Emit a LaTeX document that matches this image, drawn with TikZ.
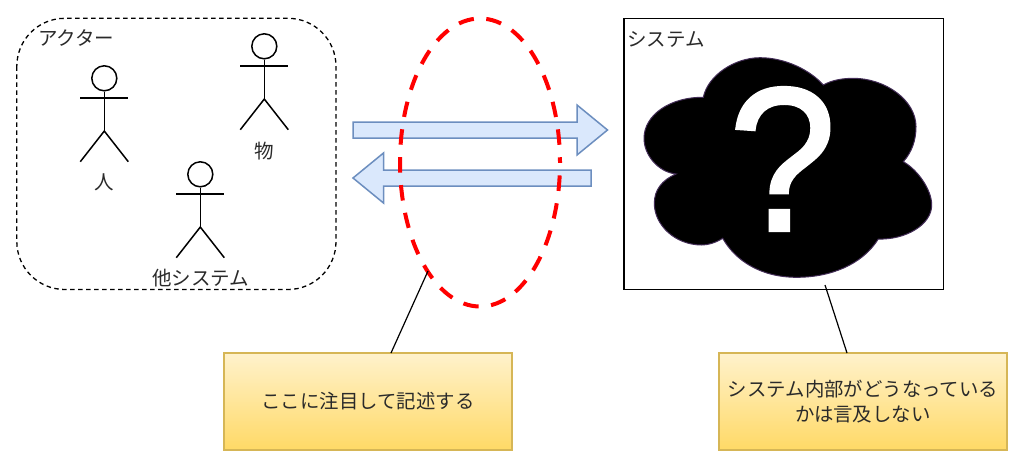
\documentclass[tikz,border=0pt]{standalone}
\usepackage{fontspec}
\setmainfont{Noto Sans CJK JP}
\newfontfamily\qfont[FakeBold=1.5,FakeStretch=0.94]{Liberation Sans}
\usetikzlibrary{shapes.geometric}
\definecolor{arrowfill}{HTML}{DAE8FC}
\definecolor{arrowline}{HTML}{6C8EBF}
\definecolor{notetop}{HTML}{FFF2CC}
\definecolor{notebot}{HTML}{FFD966}
\definecolor{noteline}{HTML}{D6B656}
\definecolor{cloudline}{HTML}{432D57}
\definecolor{inktext}{HTML}{2A2A2A}
\tikzset{
  x=1pt,y=-1pt,
  label text/.style={font=\fontsize{19.5}{23}\selectfont,text=inktext,inner sep=0pt},
  stick/.style={draw=black,line width=1.5pt},
  flowarrow/.style={draw=arrowline,fill=arrowfill,line width=1.5pt,line join=miter},
  notebox/.style={rectangle,draw=noteline,line width=1.1pt,top color=notetop,bottom color=notebot,minimum width=288pt,minimum height=97pt,align=center,font=\fontsize{19.4}{25.5}\selectfont,text=inktext,inner sep=0pt,outer sep=0pt},
  leader/.style={draw=black,line width=1.2pt},
}
\newcommand{\stickman}[3]{%
  \node[circle,stick,minimum size=25pt,inner sep=0pt] (#3head) at (#1,#2) {};
  \draw[stick] (#3head.south) -- ++(0,39.5) coordinate (#3hip);
  \draw[stick] (#1-24,#2+19.7) -- (#1+24,#2+19.7);
  \draw[stick] (#1-24,#2+83.4) -- (#3hip) -- (#1+24,#2+83.4);
}
\begin{document}
\begin{tikzpicture}
\useasboundingbox (0,0) rectangle (1024,468);
\fill[white] (0,0) rectangle (1024,468);
% actor group
\draw[black,line width=1.3pt,dash pattern=on 4.5pt off 3.5pt,rounded corners=48pt] (16.8,18.3) rectangle (336,289.5);
\node[label text,anchor=west] (actors) at (38,38) {アクター};
\stickman{104.3}{78.3}{a}
\stickman{264.3}{46.3}{b}
\stickman{200.3}{174.3}{c}
\node[label text] (person) at (104.3,182.7) {人};
\node[label text] (thing) at (264.3,151) {物};
\node[label text] (other) at (200.5,278.5) {他システム};
% arrows
\draw[flowarrow] (353,122) -- (577,122) -- (577,105) -- (607.5,130) -- (577,155) -- (577,138) -- (353,138) -- cycle;
\draw[flowarrow] (591,170) -- (383.5,170) -- (383.5,153) -- (353,178) -- (383.5,203) -- (383.5,186) -- (591,186) -- cycle;
% ellipse
\node[ellipse,draw=red,line width=4pt,dash pattern=on 15.5pt off 12.5pt,dash phase=10.25pt,minimum width=160pt,minimum height=288pt,inner sep=0pt,outer sep=0pt] (focus) at (480,162.5) {};
% system
\node[rectangle,draw=black,line width=1.5pt,minimum width=319.5pt,minimum height=271pt,inner sep=0pt,outer sep=0pt,anchor=north west] (system) at (624,18.3) {};
\node[label text,anchor=west] (systemlabel) at (627,39.5) {システム};
\draw[cloudline,fill=black,line width=1pt]
  (703.3,97.3) .. controls (708,75) and (735,57.7) .. (760,57.7)
  .. controls (785,57.7) and (810,70) .. (823.3,85)
  .. controls (832,80) and (843,78.3) .. (853.3,78.3)
  .. controls (885,78.3) and (916,100) .. (916,126.7)
  .. controls (916,140) and (912,152) .. (903.3,161.7)
  .. controls (918,170) and (931.7,190) .. (931.7,205)
  .. controls (931.7,225) and (905,240) .. (878.3,239)
  .. controls (862,265) and (830,277.3) .. (796.7,277.3)
  .. controls (760,277.3) and (735,260) .. (722.7,238.3)
  .. controls (715,243) and (708,245) .. (701.7,245)
  .. controls (675,245) and (654.3,225) .. (654.3,203.3)
  .. controls (654.3,190) and (662,180) .. (676,174)
  .. controls (658,172) and (644,155) .. (644,138.3)
  .. controls (644,115) and (670,97) .. (703.3,97.3) -- cycle;
\node[text=white,font=\qfont\fontsize{205}{205}\selectfont,inner sep=0pt] (qmark) at (782.5,159) {?};
% notes
\node[notebox] (note1) at (368,401.5) {\raisebox{1pt}{ここに注目して記述する}};
\node[notebox] (note2) at (863,401.5) {システム内部がどうなっている\\かは言及しない};
\coordinate (focusfoot) at (428,271);
\coordinate (systemfoot) at (825,285);
\draw[leader] (focusfoot) -- (391,353) coordinate (note1top);
\draw[leader] (systemfoot) -- (847,353) coordinate (note2top);
\end{tikzpicture}
\end{document}
